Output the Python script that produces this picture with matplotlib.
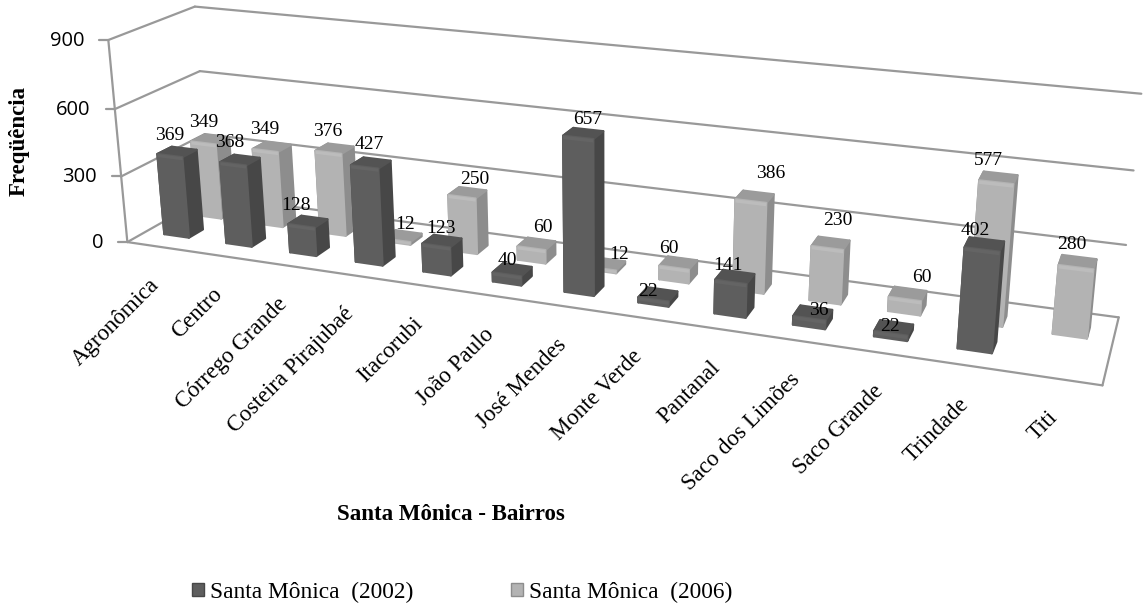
import matplotlib
matplotlib.use('Agg')
import matplotlib.pyplot as plt
import numpy as np
from matplotlib.patches import Patch, Polygon

bairros = ['Agronômica', 'Centro', 'Córrego Grande', 'Costeira Pirajubaé', 'Itacorubi',
           'João Paulo', 'José Mendes', 'Monte Verde', 'Pantanal', 'Saco dos Limões',
           'Saco Grande', 'Trindade', 'Titi']
valores_2002 = [369, 368, 128, 427, 123, 40, 657, 22, 141, 36, 22, 402, np.nan]
valores_2006 = [349, 349, 376, 12, 250, 60, 12, 60, 386, 230, 60, 577, 280]
ticks_y = [0, 300, 600, 900]
series_nomes = ['Santa Mônica  (2002)', 'Santa Mônica  (2006)']

# data label offsets from the bar top, in pixels
offs_2002 = [(0, -20), (-3, -21), (-5, -20), (5, -22), (5, -17), (1, -14), (9, -18),
             (-5, -8), (-3, -16), (10, -8), (-1, -7), (-7, -19), (0, 0)]
offs_2006 = [(0, -20), (-1, -21), (-1, -21), (8, -16), (13, -17), (11, -21), (17, -14),
             (-5, -19), (20, -28), (10, -27), (17, -21), (-8, -22), (-4, -23)]

D_ESC = 0.215   # depth of the front faces, dark row
D_CLA = 0.615   # depth of the front faces, light row

# camera calibration: (category, depth, value) -> pixel of the reference
CAL_3D = [(0, 0, 0), (0, 1, 0), (13, 0, 0), (13, 1, 0),
          (0, 0, 300), (0, 0, 600), (0, 0, 900),
          (0, 1, 300), (0, 1, 600), (0, 1, 900),
          (13, 1, 300), (13, 1, 600), (13, 1, 900),
          (0.5, D_ESC, 0), (0.5, D_ESC, 369), (6.5, D_ESC, 0), (6.5, D_ESC, 657),
          (11.5, D_ESC, 0), (11.5, D_ESC, 402),
          (0.5, D_CLA, 0), (0.5, D_CLA, 349), (8.5, D_CLA, 0), (8.5, D_CLA, 386),
          (12.5, D_CLA, 0), (12.5, D_CLA, 280), (11.5, D_CLA, 577)]
CAL_PX = [(129, 242), (207, 199), (1103, 386), (1117, 317),
          (123, 177), (117, 108), (107, 39),
          (203, 135), (200, 71), (195, 7),
          (1126, 247), (1133, 172), (1142, 95),
          (173, 237), (167, 157), (576, 297), (575, 140),
          (974, 353), (982, 250),
          (212, 213), (208, 140), (753, 290), (752, 198),
          (1070, 333), (1076, 265), (997, 180)]


def fit_camera(world, image):
    rows = []
    for (x, d, v), (u, w) in zip(world, image):
        X = [x / 13, d, v / 900, 1]
        u, w = u / 1000, w / 1000
        rows.append(X + [0, 0, 0, 0] + [-u * c for c in X])
        rows.append([0, 0, 0, 0] + X + [-w * c for c in X])
    return np.linalg.svd(np.array(rows))[2][-1].reshape(3, 4)


CAM = fit_camera(CAL_3D, CAL_PX)


def proj(x, d, v):
    p = CAM @ np.array([x / 13, d, v / 900, 1])
    return p[0] / p[2] * 1000, p[1] / p[2] * 1000


fig = plt.figure(figsize=(11.43, 6.08), dpi=100)
ax = fig.add_axes([0, 0, 1, 1])
ax.set_xlim(0, 1143)
ax.set_ylim(608, 0)
ax.axis('off')

GRID = '#999999'


def linha(a, b):
    ax.plot([a[0], b[0]], [a[1], b[1]], color=GRID, lw=1.6, solid_capstyle='round', zorder=1)


# walls and floor
for t in ticks_y:
    linha(proj(0, 0, t), proj(0, 1, t))
    linha(proj(0, 1, t), proj(13, 1, t))
    x0, y0 = proj(0, 0, t)
    linha((x0 - 9, y0), (x0, y0))
    ax.text(x0 - 24, y0 + 1, str(t), ha='right', va='center', family='Open Sans', fontsize=14.5, color='black')
linha(proj(0, 0, 0), proj(13, 0, 0))
linha(proj(13, 0, 0), proj(13, 1, 0))
linha(proj(0, 0, 0), proj(0, 0, 900))

LARG = 0.2
FUNDO = 0.17
# front, side, top, bevel
CORES = {'d': ('#5e5e5e', '#474747', '#535353', '#646464'),
         'l': ('#b3b3b3', '#8d8d8d', '#9b9b9b', '#bcbcbc')}


def face(pts, cor, z):
    ax.add_patch(Polygon(pts, closed=True, facecolor=cor, edgecolor=cor, lw=1.6,
                         joinstyle='round', zorder=z))


def barra(i, d, v, tipo, z):
    frente, lado, topo, faixa = CORES[tipo]
    xc = i + 0.5
    x0, x1 = xc - LARG, xc + LARG
    d1 = d + FUNDO
    face([proj(x1, d, 0), proj(x1, d1, 0), proj(x1, d1, v), proj(x1, d, v)], lado, z)
    face([proj(x0, d, 0), proj(x0, d1, 0), proj(x0, d1, v), proj(x0, d, v)], lado, z)
    face([proj(x0, d, v), proj(x1, d, v), proj(x1, d1, v), proj(x0, d1, v)], topo, z + 0.1)
    face([proj(x0, d, 0), proj(x1, d, 0), proj(x1, d, v), proj(x0, d, v)], frente, z + 0.2)
    # thin bevel just under the top edge
    vb = max(0, v - 14)
    ax.add_patch(Polygon([proj(x0, d, vb), proj(x1, d, vb), proj(x1, d, v), proj(x0, d, v)],
                         closed=True, facecolor=faixa, edgecolor='none', zorder=z + 0.3))


for i, v in enumerate(valores_2006):
    barra(i, D_CLA, v, 'l', 2 + i * 0.5)
for i, v in enumerate(valores_2002):
    if not np.isnan(v):
        barra(i, D_ESC, v, 'd', 10 + i * 0.5)

# data labels
for serie, d, offs in ((valores_2002, D_ESC, offs_2002), (valores_2006, D_CLA, offs_2006)):
    for i, v in enumerate(serie):
        if np.isnan(v):
            continue
        ax.annotate(str(v), proj(i + 0.5, d, v), xytext=(offs[i][0], -offs[i][1]), textcoords='offset pixels',
                    ha='center', va='center', family='Liberation Serif', fontsize=14, zorder=30)

# category labels
for i, nome in enumerate(bairros):
    ax.annotate(nome, proj(i + 0.5, 0, 0), xytext=(-10, -28), textcoords='offset pixels', ha='right', va='top',
                rotation=45, rotation_mode='anchor', family='Liberation Serif', fontsize=16.5, zorder=30)

ax.text(451, 515, 'Santa Mônica - Bairros', ha='center', va='center', family='Liberation Serif',
        fontsize=16.5, fontweight='bold')
ax.text(19, 141, 'Freqüência', ha='center', va='center', rotation=90, family='Liberation Serif',
        fontsize=16.5, fontweight='bold')

handles = [Patch(facecolor=CORES['d'][0], edgecolor=CORES['d'][1]),
           Patch(facecolor=CORES['l'][0], edgecolor=CORES['l'][1])]
ax.legend(handles, series_nomes, ncol=2, loc='center left', bbox_to_anchor=(192 / 1143, 1 - 592 / 608),
          frameon=False, prop={'family': 'Liberation Serif', 'size': 16.8},
          handlelength=0.52, handleheight=0.52, handletextpad=0.25, columnspacing=4.2,
          borderpad=0, borderaxespad=0)

fig.savefig('out.png', dpi=100)
